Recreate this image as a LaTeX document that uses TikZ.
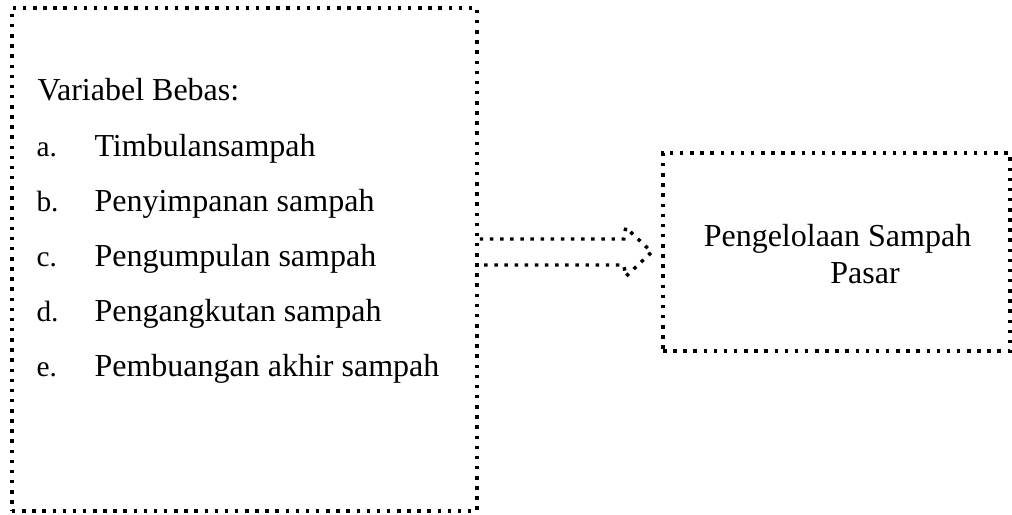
\documentclass[tikz,border=0pt]{standalone}
\usepackage{fontspec}
\setmainfont{Liberation Serif}
\usetikzlibrary{positioning}
\tikzset{
dotline/.style={
    line width=1.3pt,
    dash pattern=on 1.3pt off 2.5pt,
    line cap=butt
},
dotbox/.style={
    dotline,
    draw,
    rectangle,
    inner sep=0pt
},
teks/.style={
    font=\fontsize{12pt}{14pt}\selectfont,
    inner sep=0pt
},
huruf/.style={
    font=\fontsize{11pt}{13pt}\selectfont,
    inner sep=0pt
}
}
\begin{document}
\begin{tikzpicture}[x=0.375pt,y=-0.375pt]
\useasboundingbox (0,0) rectangle (1012,515);
% kotak variabel bebas
\node[dotbox, minimum width=174.4pt, minimum height=188.6pt] (bebas) at (244.5,259.5) {};
\node[teks, anchor=base west] (judul) at (37,101) {Variabel Bebas:};
\foreach \h/\isi [count=\i] in {a/Timbulansampah,b/Penyimpanan sampah,c/Pengumpulan sampah,d/Pengangkutan sampah,e/Pembuangan akhir sampah}{
    \node[huruf, anchor=base west] (lbl-\h) at (36,101+55.2*\i) {\h.};
    \node[teks, anchor=base west] (item-\h) at (94,101+55.2*\i) {\isi};
}
% kotak variabel terikat
\node[dotbox, minimum width=130.1pt, minimum height=74.25pt] (terikat) at (836.5,252) {};
\node[teks, anchor=base] (kelola) at (837.5,247) {Pengelolaan Sampah};
\node[teks, anchor=base] (pasar) at (865,284) {Pasar};
% panah
\coordinate (ekor) at (bebas.east |- terikat.west);
\draw[dotline] (ekor) ++(1,-13) -- ++(144,0) -- ++(2,-11.5) -- ++(26,24.5)
    -- ++(-26,24.5) -- ++(-2,-11.5) -- ++(-144,0);
\end{tikzpicture}
\end{document}
